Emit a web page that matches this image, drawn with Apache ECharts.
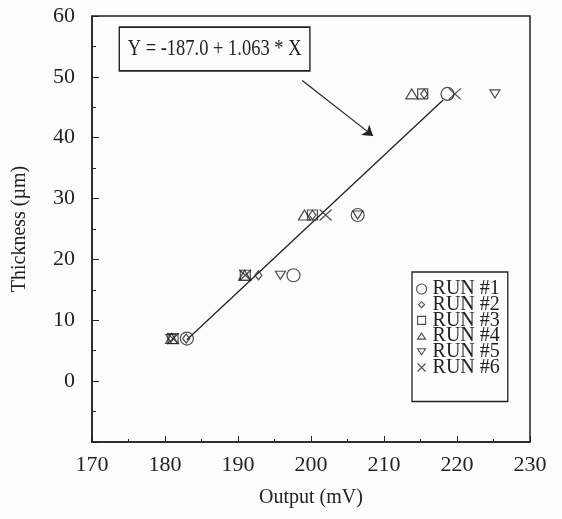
<!DOCTYPE html>
<html><head><meta charset="utf-8">
<script src="https://cdn.jsdelivr.net/npm/echarts@6/dist/echarts.min.js"></script>
<style>html,body{margin:0;padding:0;background:#fcfcfa}#c{width:562px;height:519px}</style>
</head><body><div id="c"></div>
<script>
// Thickness levels (µm) and outputs (mV) per run
const thickness = [7.0, 17.4, 27.3, 47.2];
const run1 = [183.0, 197.6, 206.4, 218.7];
const run2 = [182.9, 192.8, 200.2, 215.5];
const run3 = [181.1, 191.0, 200.2, 215.3];
const run4 = [180.9, 190.9, 199.1, 213.8];
const run5 = [180.8, 195.8, 206.4, 225.2];
const run6 = [181.1, 191.0, 202.0, 219.7];
const runNames = ['RUN #1', 'RUN #2', 'RUN #3', 'RUN #4', 'RUN #5', 'RUN #6'];
// fitted line endpoints (X, Y)
const fitX = [183.0, 218.1];
const fitY = [6.8, 46.2];
// annotation arrow (data coords)
const arrowFrom = [198.8, 49.4];
const arrowTo = [208.5, 40.3];
const equation = 'Y = -187.0 + 1.063 * X';
const xTicks = { min: 170, max: 230, step: 10 };
const yTicks = { min: -10, max: 60, step: 10 };

const ink = '#222';
const serif = '"Liberation Serif", "Times New Roman", serif';
const runs = [run1, run2, run3, run4, run5, run6];
const symbols = [
  { symbol: 'circle', size: 13, rotate: 0 },
  { symbol: 'diamond', size: [7, 9], rotate: 0 },
  { symbol: 'rect', size: 10, rotate: 0 },
  { symbol: 'triangle', size: [12, 10], rotate: 0 },
  { symbol: 'triangle', size: [10, 8], rotate: 180 },
  { symbol: 'path://M0,0L10,10M10,0L0,10', size: [12, 11], rotate: 0 }
];
const legendIcons = [
  'circle',
  'path://M0,0M12,10M6,2L9,5L6,8L3,5Z',
  'path://M0,0M12,10M2,1H10V9H2Z',
  'path://M0,0M12,10M6,2L10,8H2Z',
  'path://M0,0M12,10M2,2H10L6,8Z',
  'path://M0,0M12,10M2,1L10,9M10,1L2,9'
];

const series = runs.map((r, i) => ({
  name: runNames[i],
  type: 'scatter',
  symbol: symbols[i].symbol,
  symbolSize: symbols[i].size,
  symbolRotate: symbols[i].rotate,
  itemStyle: { color: 'transparent', borderColor: ink, borderWidth: 1.2 },
  data: r.map((x, j) => [x, thickness[j]]),
  silent: true,
  z: 3
}));
series.push({
  name: 'fit',
  type: 'line',
  symbol: 'none',
  data: fitX.map((x, j) => [x, fitY[j]]),
  lineStyle: { color: ink, width: 1.3 },
  silent: true,
  z: 2,
  markLine: {
    silent: true,
    symbol: ['none', 'arrow'],
    symbolSize: 10,
    label: { show: false },
    lineStyle: { color: ink, width: 1.2, type: 'solid' },
    itemStyle: { color: ink },
    data: [[{ coord: arrowFrom }, { coord: arrowTo }]]
  }
});

const chart = echarts.init(document.getElementById('c'), null, { renderer: 'canvas' });
chart.setOption({
  animation: false,
  backgroundColor: '#fcfcfa',
  grid: { left: 92, right: 32, top: 16, bottom: 77, show: true, borderColor: ink, borderWidth: 1.5, backgroundColor: 'transparent' },
  xAxis: {
    type: 'value', min: xTicks.min, max: xTicks.max, interval: xTicks.step,
    name: 'Output (mV)', nameLocation: 'middle', nameGap: 46,
    nameTextStyle: { fontFamily: serif, fontSize: 20, color: ink },
    axisLine: { onZero: false, lineStyle: { color: ink, width: 1.5 } },
    axisTick: { inside: true, length: 6, lineStyle: { color: ink } },
    minorTick: { show: true, splitNumber: 2, length: 3, lineStyle: { color: ink } },
    splitLine: { show: false },
    axisLabel: { fontFamily: serif, fontSize: 22, color: ink, margin: 12 }
  },
  yAxis: {
    type: 'value', min: yTicks.min, max: yTicks.max, interval: yTicks.step,
    name: 'Thickness (\u00b5m)', nameLocation: 'middle', nameGap: 62,
    nameTextStyle: { fontFamily: serif, fontSize: 20, color: ink },
    axisLine: { onZero: false, lineStyle: { color: ink, width: 1.5 } },
    axisTick: { inside: true, length: 7, lineStyle: { color: ink } },
    minorTick: { show: true, splitNumber: 2, length: 4, lineStyle: { color: ink } },
    splitLine: { show: false },
    axisLabel: { fontFamily: serif, fontSize: 22, color: ink, margin: 17,
      formatter: v => (v === yTicks.min ? '' : String(v)) }
  },
  legend: {
    orient: 'vertical', left: 412, top: 272,
    data: runNames.map((n, i) => ({ name: n, icon: legendIcons[i] })),
    itemWidth: 12, itemHeight: 10, itemGap: -4.3,
    padding: [7, 8, 24, 3],
    borderColor: ink, borderWidth: 1.3, backgroundColor: '#fcfcfa',
    itemStyle: { color: 'transparent', borderColor: ink, borderWidth: 1.1 },
    textStyle: { fontFamily: serif, fontSize: 20, color: ink },
    selectedMode: false
  },
  graphic: [{
    type: 'text', x: 120, y: 28, scaleX: 0.77, z: 10,
    style: {
      text: equation, font: '24px ' + serif, fill: ink,
      padding: [9, 10, 9, 10], borderColor: ink, borderWidth: 1.8, backgroundColor: '#fcfcfa'
    }
  }],
  series: series
});
</script></body></html>
